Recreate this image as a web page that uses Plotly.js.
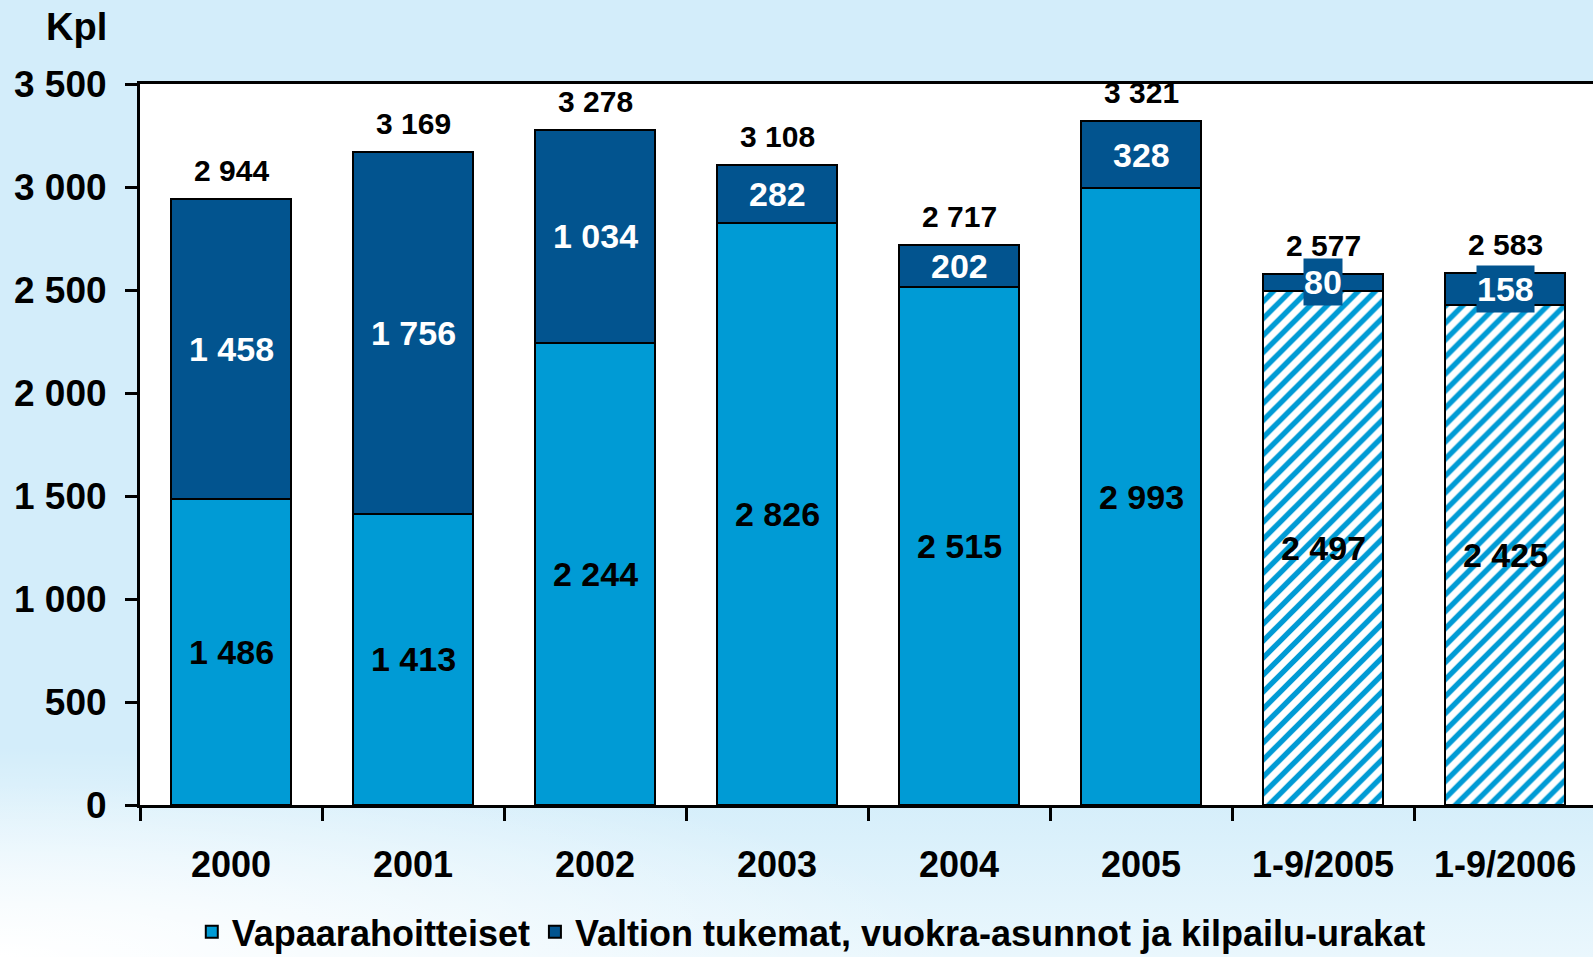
<!DOCTYPE html>
<html>
<head>
<meta charset="utf-8">
<script src="https://cdn.plot.ly/plotly-3.0.1.min.js"></script>
<style>
html, body { margin: 0; padding: 0; }
body {
  width: 1593px; height: 957px; overflow: hidden;
  background:
    radial-gradient(ellipse 60% 22% at 0% 100%, rgba(255,255,255,1) 0%, rgba(255,255,255,0) 100%),
    linear-gradient(to bottom, #d3edfa 0%, #d3edfa 82%, #eaf7fd 100%);
}
#chart { width: 1593px; height: 957px; }
</style>
</head>
<body>
<div id="chart"></div>
<script>
// ---- data ----
const categories = ['2000', '2001', '2002', '2003', '2004', '2005', '1-9/2005', '1-9/2006'];
const vapaarahoitteiset = [1486, 1413, 2244, 2826, 2515, 2993, 2497, 2425];
const valtionTukemat = [1458, 1756, 1034, 282, 202, 328, 80, 158];
const totals = [2944, 3169, 3278, 3108, 2717, 3321, 2577, 2583];
const partialYear = [false, false, false, false, false, false, true, true];
const seriesNames = ['Vapaarahoitteiset', 'Valtion tukemat, vuokra-asunnot ja kilpailu-urakat'];
const yTicks = [0, 500, 1000, 1500, 2000, 2500, 3000, 3500];
const yUnit = 'Kpl';

// ---- styles ----
const LIGHT = '#009bd5';
const DARK = '#02548f';
const FONT = 'Liberation Sans, Arial, sans-serif';

function fmt(n) {
  return String(n).replace(/\B(?=(\d{3})+(?!\d))/g, ' ');
}

const traces = [
  {
    type: 'bar', name: '<b>' + seriesNames[0] + '</b>', x: categories, y: vapaarahoitteiset,
    marker: {
      color: LIGHT,
      line: { color: '#000', width: 2 },
      pattern: {
        shape: partialYear.map(p => p ? '/' : ''),
        fgcolor: LIGHT, bgcolor: '#ffffff', size: 12, solidity: 0.45
      }
    },
    hoverinfo: 'skip'
  },
  {
    type: 'bar', name: '<b>' + seriesNames[1] + '</b>', x: categories, y: valtionTukemat,
    marker: { color: DARK, line: { color: '#000', width: 2 } },
    hoverinfo: 'skip'
  }
];

const annotations = [];
categories.forEach((c, i) => {
  annotations.push({
    x: i, y: vapaarahoitteiset[i] / 2, xref: 'x', yref: 'y',
    text: fmt(vapaarahoitteiset[i]), showarrow: false,
    font: { family: FONT, size: 34, color: '#000', weight: 'bold' }
  });
  const small = valtionTukemat[i] < 200;
  const dark = {
    x: i, y: vapaarahoitteiset[i] + valtionTukemat[i] / 2, xref: 'x', yref: 'y',
    text: fmt(valtionTukemat[i]), showarrow: false,
    font: { family: FONT, size: 34, color: '#fff', weight: 'bold' }
  };
  if (small) { dark.bgcolor = DARK; dark.borderpad = 0; dark.height = 46; }
  annotations.push(dark);
  annotations.push({
    x: i, y: totals[i], xref: 'x', yref: 'y', yanchor: 'bottom', yshift: 10,
    text: fmt(totals[i]), showarrow: false,
    font: { family: FONT, size: 30, color: '#000', weight: 'bold' }
  });
});
annotations.push({
  xref: 'paper', yref: 'paper', x: -0.044, y: 1.079, xanchor: 'center', yanchor: 'middle',
  text: yUnit, showarrow: false,
  font: { family: FONT, size: 38, color: '#000', weight: 'bold' }
});

const layout = {
  width: 1593, height: 957,
  margin: { l: 140, r: 0, t: 84, b: 152, autoexpand: false },
  paper_bgcolor: 'rgba(0,0,0,0)',
  plot_bgcolor: '#ffffff',
  barmode: 'stack',
  bargap: 0.34,
  showlegend: true,
  legend: {
    orientation: 'h', x: 0.462, xanchor: 'center', y: -0.176, yanchor: 'middle',
    bgcolor: 'rgba(0,0,0,0)', traceorder: 'normal', itemwidth: 30,
    font: { family: FONT, size: 36, color: '#000', weight: 'bold' }
  },
  xaxis: {
    type: 'category', range: [-0.5, 7.483],
    showline: true, linecolor: '#000', linewidth: 3, mirror: true,
    ticks: 'outside', tickson: 'boundaries', ticklen: 13, tickwidth: 3, tickcolor: '#000',
    ticklabelstandoff: 26,
    tickfont: { family: FONT, size: 36, color: '#000', weight: 'bold' },
    showgrid: false, zeroline: false, fixedrange: true
  },
  yaxis: {
    range: [0, 3500], tickvals: yTicks, ticktext: yTicks.map(fmt),
    showline: true, linecolor: '#000', linewidth: 3,
    ticks: 'outside', ticklen: 12, tickwidth: 3, tickcolor: '#000',
    ticklabelstandoff: 11,
    tickfont: { family: FONT, size: 37, color: '#000', weight: 'bold' },
    showgrid: false, zeroline: false, fixedrange: true
  },
  annotations: annotations
};

Plotly.newPlot('chart', traces, layout, { displayModeBar: false, staticPlot: true });
</script>
</body>
</html>
